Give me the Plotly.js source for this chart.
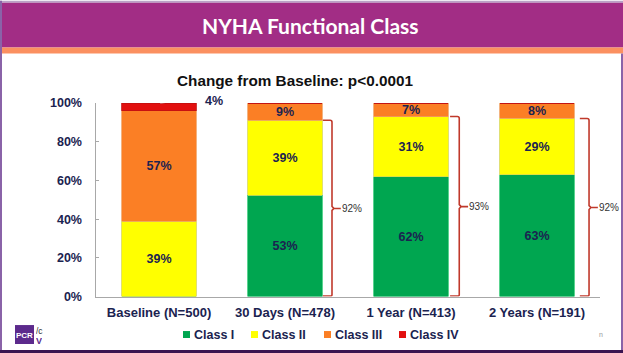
<!DOCTYPE html>
<html><head><meta charset="utf-8">
<script src="https://cdn.plot.ly/plotly-3.0.1.min.js"></script>
<style>html,body{margin:0;padding:0;background:#fff;overflow:hidden}</style>
</head><body><div id="c" style="width:623px;height:353px"></div>
<script>
const categories = ['Baseline (N=500)','30 Days (N=478)','1 Year (N=413)','2 Years (N=191)'];
const classI   = [0, 53, 62, 63];
const classII  = [39, 39, 31, 29];
const classIII = [57, 9, 7, 8];
const classIV  = [4, 0, 0, 0];
const bracketLabels = [null, '92%', '93%', '92%'];
const bracketOffsets = [0, 0.30, 0.31, 0.34];
const classNames = ['Class I','Class II','Class III','Class IV'];
const classColors = ['#00a650','#ffff00','#fb7f25','#e2100f'];
const NAVY = '#1b2350';
const F = 'Liberation Sans, Arial, sans-serif';
const xs=[0,1,2,3];
function lab(a){return a.map(v=> v>0 ? '<b>'+v+'%</b>' : '');}
function tr(i,y,line,showText){
  return {type:'bar',name:classNames[i],x:xs,y,marker:{color:classColors[i],line:{color:line,width:0.8}},
    text:showText?lab(y):['','','',''],textposition:'inside',insidetextanchor:'middle',constraintext:'none',textangle:0,
    insidetextfont:{family:F,size:12.5,color:NAVY},hoverinfo:'skip'};
}
const data=[tr(0,classI,'#2fc873',true),tr(1,classII,'#d8d850',true),tr(2,classIII,'#f0a060',true),tr(3,classIV,'#c01010',false)];

const PW=623,PH=353,ML=96,MR=23,MT=102.5,MB=4,PLW=PW-ML-MR,PLH=PH-MT-MB,PB=PH-MB;
const fx=x=>(x-ML)/PLW, fy=y=>(PB-y)/PLH;
const shapes=[];
function band(x0,y0,x1,y1,c){shapes.push({type:'rect',xref:'paper',yref:'paper',
  x0:fx(x0),x1:fx(x1),y0:fy(y1),y1:fy(y0),fillcolor:c,line:{width:0},layer:'below'});}
band(0,0,623,2,'#b9a2c6');
band(2,2,623,47,'#a22d85');
band(2,47,623,53,'#fb9060');
band(0,0,2,353,'#8a63a8');
band(621,53,623,353,'#8a63a8');
band(0,350,623,353,'#3a1450');
band(15,325,34,344,'#5c2a8c');

[1,2,3].forEach(i=>{
  const tot=classI[i]+classII[i]+classIII[i]+classIV[i];
  const top=(classI[i]+classII[i])/tot*100;
  const xa=i+bracketOffsets[i], xb=xa+0.073, xc=xb+0.07, m=top/2;
  shapes.push({type:'path',xref:'x',yref:'y',layer:'above',
    path:`M ${xa} ${top} L ${xb-0.015} ${top} Q ${xb} ${top} ${xb} ${top-1} L ${xb} ${m+1} L ${xb+0.015} ${m} L ${xc} ${m} L ${xb+0.015} ${m} L ${xb} ${m-1} L ${xb} 1 Q ${xb} 0.3 ${xb-0.015} 0.3 L ${xa} 0.3`,
    line:{color:'#c0392b',width:1.6}});
});
shapes.push({type:'line',xref:'x',yref:'y',x0:0.01,x1:0.3,y0:100,y1:101.8,line:{color:'#d0d0d0',width:1},layer:'above'});

const annotations=[
  {xref:'paper',yref:'paper',x:fx(310),y:fy(25),text:'<b>NYHA Functional Class</b>',showarrow:false,
   font:{family:'Lato, sans-serif',size:21,color:'#ffffff'},xanchor:'center',yanchor:'middle'},
  {xref:'paper',yref:'paper',x:fx(295),y:fy(80),text:'<b>Change from Baseline: p&lt;0.0001</b>',showarrow:false,
   font:{family:F,size:15.3,color:'#111111'},xanchor:'center',yanchor:'middle'},
  {xref:'paper',yref:'paper',x:fx(214),y:fy(100.7),text:'<b>4%</b>',showarrow:false,font:{family:F,size:12.5,color:NAVY},xanchor:'center',yanchor:'middle'},
  {xref:'paper',yref:'paper',x:fx(24.5),y:fy(335),text:'<b>PCR</b>',showarrow:false,font:{family:F,size:8,color:'#fff'},xanchor:'center',yanchor:'middle'},
  {xref:'paper',yref:'paper',x:fx(39),y:fy(330),text:'/c',showarrow:false,font:{family:F,size:8.5,color:'#333'},xanchor:'center',yanchor:'middle',borderpad:0,height:9},
  {xref:'paper',yref:'paper',x:fx(39),y:fy(340),text:'<b>V</b>',showarrow:false,font:{family:F,size:9,color:'#5c2a8c'},xanchor:'center',yanchor:'middle',borderpad:0,height:9},
  {xref:'paper',yref:'paper',x:fx(601),y:fy(334),text:'n',showarrow:false,font:{family:F,size:7,color:'#999'},xanchor:'center',yanchor:'middle'}
];
[1,2,3].forEach(i=>{
  const tot=classI[i]+classII[i]+classIII[i]+classIV[i];
  const m=(classI[i]+classII[i])/tot*50;
  annotations.push({xref:'x',yref:'y',x:i+bracketOffsets[i]+0.143,y:m,text:bracketLabels[i],showarrow:false,xanchor:'left',yanchor:'middle',
    font:{family:F,size:10,color:'#333'},xshift:1,borderpad:0,borderwidth:0});
});
// legend key
const keyX=[183,251,324,399];
classNames.forEach((n,i)=>{
  band(keyX[i],331,keyX[i]+7,338,classColors[i]);
  annotations.push({xref:'paper',yref:'paper',x:fx(keyX[i]+9.5),y:fy(334.5),text:'<b>'+n+'</b>',showarrow:false,xanchor:'left',yanchor:'middle',
    font:{family:F,size:12.5,color:NAVY},borderpad:0});
});
const layout={
  width:PW,height:PH,margin:{l:ML,r:MR,t:MT,b:MB,pad:0},
  barmode:'stack',barnorm:'percent',bargap:0.41,
  paper_bgcolor:'#fff',plot_bgcolor:'rgba(0,0,0,0)',
  font:{family:F},
  showlegend:false,
  xaxis:{type:'linear',range:[-0.5,3.5],tickmode:'array',tickvals:xs,ticktext:categories.map(c=>'<b>'+c+'</b>'),
    tickfont:{family:F,size:13,color:NAVY},ticklabelstandoff:4,showgrid:false,zeroline:false,showline:true,linecolor:'#a8a8a8',linewidth:1,ticks:'',fixedrange:true},
  yaxis:{domain:[(PB-296.5)/PLH,1],range:[0,100],tickmode:'array',tickvals:[0,20,40,60,80,100],ticktext:['0%','20%','40%','60%','80%','100%'].map(t=>'<b>'+t+'</b>'),
    tickfont:{family:F,size:12.5,color:NAVY},ticklabelstandoff:10,showgrid:false,zeroline:false,showline:true,linecolor:'#a8a8a8',linewidth:1.5,ticks:'inside',ticklen:3,tickcolor:'#a8a8a8',fixedrange:true},
  shapes,annotations
};
Plotly.newPlot('c',data,layout,{displayModeBar:false,staticPlot:true});
</script></body></html>
